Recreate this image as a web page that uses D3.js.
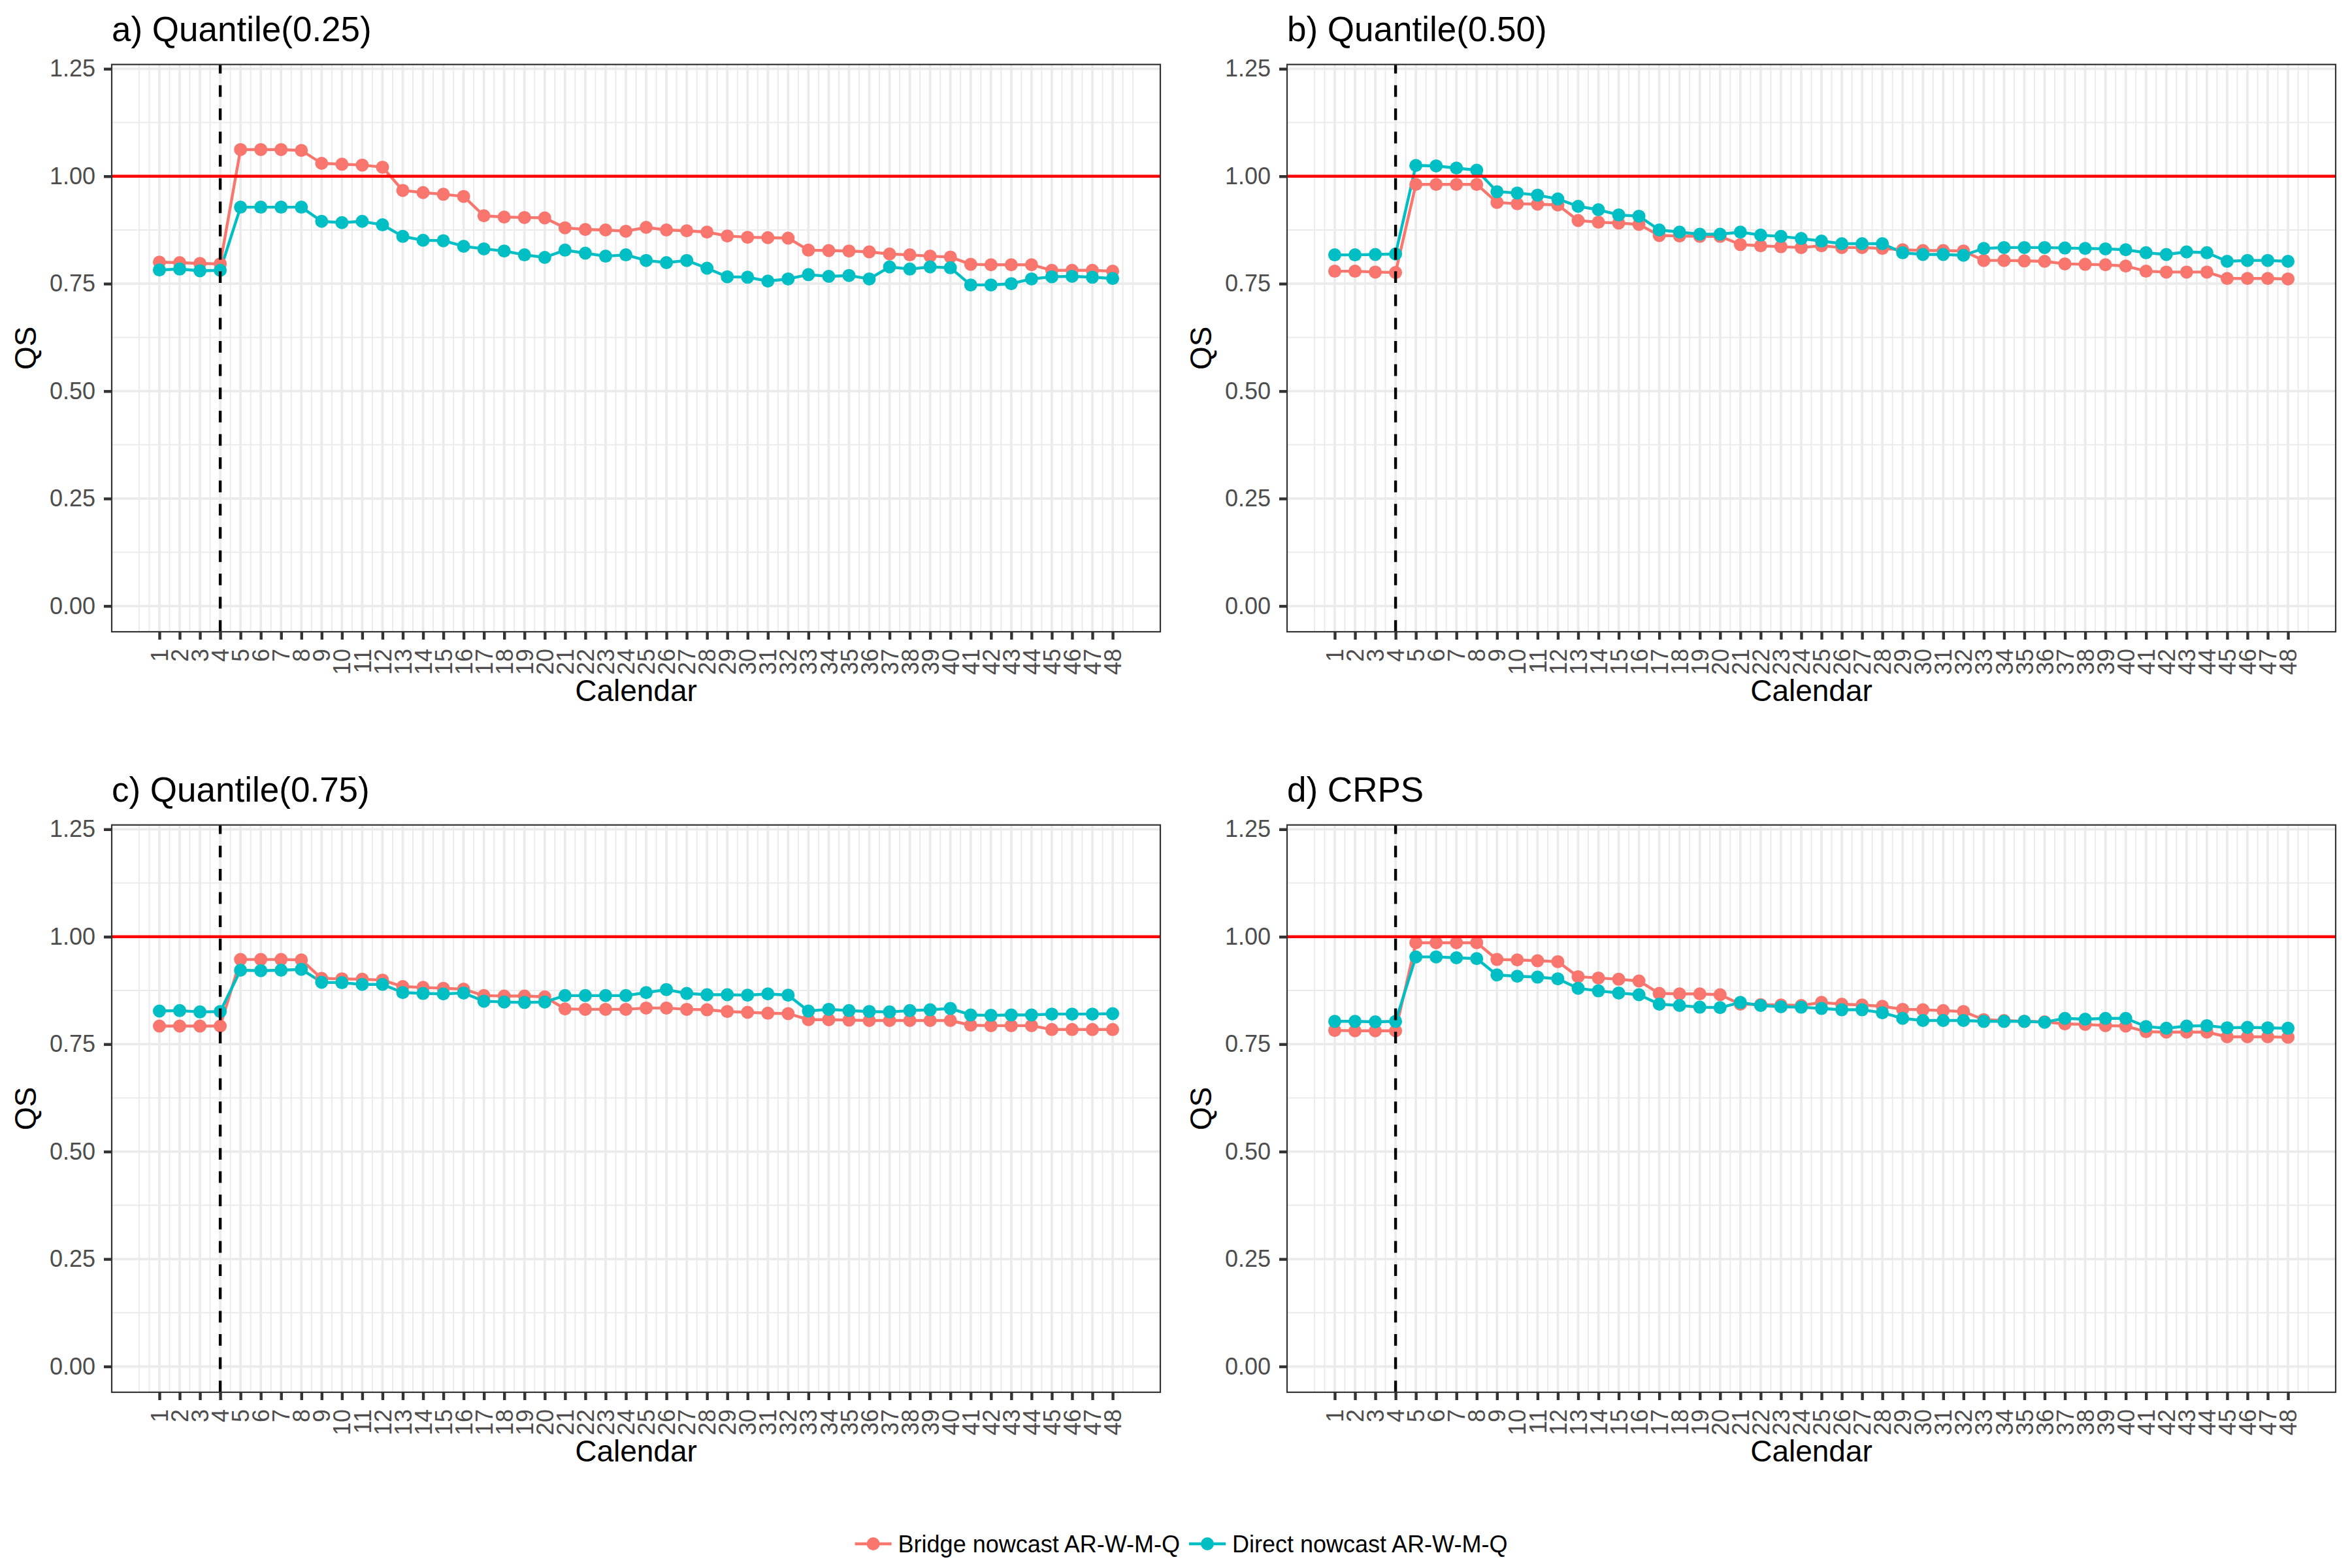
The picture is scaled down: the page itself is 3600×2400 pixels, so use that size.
<!DOCTYPE html>
<html>
<head>
<meta charset="utf-8">
<script src="https://cdn.jsdelivr.net/npm/d3@7"></script>
<style>
  body { margin: 0; background: #fff; }
  svg { display: block; font-family: "Liberation Sans", Arial, Helvetica, sans-serif; }
</style>
</head>
<body>
<div id="vis"></div>
<script>
// x categories (calendar step) and y ticks
const calendar = [1,2,3,4,5,6,7,8,9,10,11,12,13,14,15,16,17,18,19,20,21,22,23,24,
  25,26,27,28,29,30,31,32,33,34,35,36,37,38,39,40,41,42,43,44,45,46,47,48];
const yTicks = [0, 0.25, 0.5, 0.75, 1, 1.25];
const yTickLabels = ["0.00", "0.25", "0.50", "0.75", "1.00", "1.25"];
const panelTitles = ["a) Quantile(0.25)", "b) Quantile(0.50)", "c) Quantile(0.75)", "d) CRPS"];
const seriesNames = ["Bridge nowcast AR-W-M-Q", "Direct nowcast AR-W-M-Q"];
const refLine = 1;
const nowcastStart = 4;

// a) Quantile(0.25)
const bridgeQ25 = [0.800,0.799,0.797,0.796, 1.062,1.062,1.062,1.060, 1.030,1.028,1.026,1.021,
  0.967,0.962,0.958,0.953, 0.908,0.905,0.904,0.903, 0.880,0.876,0.875,0.872,
  0.881,0.875,0.873,0.870, 0.861,0.858,0.857,0.856, 0.828,0.827,0.826,0.824,
  0.819,0.817,0.814,0.812, 0.795,0.794,0.794,0.794, 0.781,0.781,0.781,0.779];
const directQ25 = [0.782,0.784,0.780,0.781, 0.928,0.928,0.928,0.928, 0.895,0.892,0.895,0.887,
  0.860,0.851,0.850,0.837, 0.831,0.826,0.817,0.811, 0.828,0.821,0.814,0.817,
  0.804,0.799,0.804,0.786, 0.766,0.765,0.756,0.761, 0.771,0.767,0.769,0.761,
  0.789,0.784,0.789,0.787, 0.747,0.747,0.750,0.761, 0.766,0.767,0.765,0.762];

// b) Quantile(0.50)
const bridgeQ50 = [0.779,0.779,0.777,0.776, 0.981,0.981,0.981,0.981, 0.939,0.936,0.935,0.933,
  0.897,0.893,0.891,0.888, 0.862,0.861,0.860,0.860, 0.841,0.838,0.836,0.834,
  0.838,0.834,0.834,0.832, 0.829,0.827,0.827,0.826, 0.804,0.804,0.803,0.802,
  0.796,0.795,0.794,0.791, 0.779,0.777,0.777,0.777, 0.762,0.762,0.762,0.761];
const directQ50 = [0.817,0.817,0.818,0.819, 1.025,1.024,1.019,1.014, 0.964,0.961,0.956,0.947,
  0.930,0.922,0.910,0.907, 0.875,0.870,0.865,0.865, 0.870,0.863,0.860,0.855,
  0.849,0.843,0.843,0.843, 0.822,0.818,0.818,0.816, 0.832,0.834,0.834,0.834,
  0.833,0.832,0.831,0.829, 0.822,0.818,0.824,0.822, 0.802,0.804,0.804,0.802];

// c) Quantile(0.75)
const bridgeQ75 = [0.792,0.792,0.792,0.792, 0.947,0.947,0.947,0.946, 0.903,0.902,0.901,0.899,
  0.884,0.882,0.880,0.878, 0.863,0.862,0.862,0.860, 0.832,0.831,0.831,0.831,
  0.834,0.834,0.831,0.830, 0.826,0.824,0.822,0.821, 0.807,0.807,0.806,0.805,
  0.805,0.805,0.805,0.805, 0.794,0.793,0.793,0.793, 0.784,0.784,0.784,0.784];
const directQ75 = [0.827,0.828,0.825,0.826, 0.922,0.921,0.922,0.924, 0.894,0.893,0.889,0.889,
  0.870,0.868,0.867,0.869, 0.850,0.848,0.847,0.848, 0.863,0.863,0.863,0.863,
  0.870,0.877,0.868,0.865, 0.865,0.864,0.867,0.864, 0.827,0.831,0.828,0.826,
  0.825,0.828,0.830,0.833, 0.818,0.817,0.818,0.818, 0.820,0.820,0.820,0.821];

// d) CRPS
const bridgeCRPS = [0.782,0.781,0.781,0.781, 0.986,0.986,0.986,0.986, 0.947,0.946,0.944,0.942,
  0.907,0.904,0.901,0.897, 0.868,0.867,0.867,0.865, 0.843,0.842,0.841,0.840,
  0.847,0.843,0.841,0.838, 0.831,0.830,0.828,0.826, 0.807,0.805,0.803,0.802,
  0.797,0.796,0.793,0.792, 0.779,0.778,0.778,0.778, 0.767,0.767,0.767,0.766];
const directCRPS = [0.803,0.803,0.802,0.803, 0.953,0.953,0.951,0.949, 0.911,0.908,0.906,0.902,
  0.880,0.874,0.869,0.865, 0.843,0.840,0.836,0.835, 0.847,0.840,0.837,0.836,
  0.833,0.830,0.830,0.823, 0.810,0.805,0.805,0.805, 0.803,0.803,0.803,0.801,
  0.810,0.808,0.810,0.810, 0.791,0.787,0.792,0.793, 0.788,0.789,0.788,0.787];

const width = 3600, height = 2400;
const svg = d3.select("#vis").append("svg")
  .attr("width", width)
  .attr("height", height);
svg.append("rect").attr("width", width).attr("height", height).attr("fill", "#fff");

const seriesColors = ["#F8766D", "#00BFC4"];
const panelW = 1605, panelH = 868.3;
const colLeft = [171, 1970], rowTop = [98.7, 1262.7];
const gridCol = "#EBEBEB", inkCol = "#333333";
const pointR = 10;

const panels = [
  { title: panelTitles[0], series: [bridgeQ25, directQ25] },
  { title: panelTitles[1], series: [bridgeQ50, directQ50] },
  { title: panelTitles[2], series: [bridgeQ75, directQ75] },
  { title: panelTitles[3], series: [bridgeCRPS, directCRPS] }
];

panels.forEach((p, i) => {
  const left = colLeft[i % 2], top = rowTop[Math.floor(i / 2)];
  const bottom = top + panelH;
  const x = d3.scaleLinear().domain([-1.35, 50.35]).range([left, left + panelW]);
  const y = d3.scaleLinear().domain([-0.06, 1.26]).range([bottom, top]);

  const g = svg.append("g");
  const clipId = "clip" + i;
  g.append("clipPath").attr("id", clipId)
    .append("rect").attr("x", left).attr("y", top).attr("width", panelW).attr("height", panelH);
  const inner = g.append("g").attr("clip-path", `url(#${clipId})`);

  // grid lines (minor first, then major)
  const xMinor = d3.range(0, 49.01, 0.5);
  const yMinor = [0.125, 0.375, 0.625, 0.875, 1.125];
  inner.selectAll(".vminor").data(xMinor).join("line")
    .attr("x1", d => x(d)).attr("x2", d => x(d)).attr("y1", top).attr("y2", bottom)
    .attr("stroke", gridCol).attr("stroke-width", 2);
  inner.selectAll(".hminor").data(yMinor).join("line")
    .attr("x1", left).attr("x2", left + panelW).attr("y1", d => y(d)).attr("y2", d => y(d))
    .attr("stroke", gridCol).attr("stroke-width", 2);
  inner.selectAll(".vmajor").data(calendar).join("line")
    .attr("x1", d => x(d)).attr("x2", d => x(d)).attr("y1", top).attr("y2", bottom)
    .attr("stroke", gridCol).attr("stroke-width", 3.8);
  inner.selectAll(".hmajor").data(yTicks).join("line")
    .attr("x1", left).attr("x2", left + panelW).attr("y1", d => y(d)).attr("y2", d => y(d))
    .attr("stroke", gridCol).attr("stroke-width", 3.8);

  // lines then points
  const line = d3.line().x((d, j) => x(calendar[j])).y(d => y(d));
  p.series.forEach((s, k) => {
    inner.append("path").datum(s)
      .attr("d", line).attr("fill", "none")
      .attr("stroke", seriesColors[k]).attr("stroke-width", 4.4)
      .attr("stroke-linejoin", "round");
  });
  p.series.forEach((s, k) => {
    inner.selectAll(null).data(s).join("circle")
      .attr("cx", (d, j) => x(calendar[j])).attr("cy", d => y(d))
      .attr("r", pointR).attr("fill", seriesColors[k]);
  });

  // reference lines
  inner.append("line")
    .attr("x1", left).attr("x2", left + panelW).attr("y1", y(refLine)).attr("y2", y(refLine))
    .attr("stroke", "#FF0000").attr("stroke-width", 4.4);
  inner.append("line")
    .attr("x1", x(nowcastStart)).attr("x2", x(nowcastStart)).attr("y1", bottom).attr("y2", top)
    .attr("stroke", "#000").attr("stroke-width", 4.4).attr("stroke-dasharray", "17.8,17.8");

  // panel border
  g.append("rect").attr("x", left).attr("y", top).attr("width", panelW).attr("height", panelH)
    .attr("fill", "none").attr("stroke", inkCol).attr("stroke-width", 2.2);

  // axes
  const yAxis = g.append("g").attr("transform", `translate(${left},0)`)
    .call(d3.axisLeft(y).tickValues(yTicks).tickFormat((d, k) => yTickLabels[k])
      .tickSize(12).tickPadding(13));
  const xAxis = g.append("g").attr("transform", `translate(0,${bottom})`)
    .call(d3.axisBottom(x).tickValues(calendar).tickSize(12));
  [yAxis, xAxis].forEach(ax => {
    ax.select(".domain").remove();
    ax.selectAll(".tick line").attr("stroke", inkCol).attr("stroke-width", 4.4);
    ax.selectAll(".tick text").attr("fill", "#4D4D4D")
      .style("font-size", "36px").style("font-family", "Liberation Sans, Arial, sans-serif");
  });
  xAxis.selectAll(".tick text")
    .attr("transform", "rotate(-90)")
    .attr("x", -26).attr("y", 0).attr("dy", "0.35em")
    .attr("text-anchor", "end");

  // titles
  g.append("text").attr("x", left).attr("y", top - 36)
    .style("font-size", "53px").attr("fill", "#000").text(p.title);
  g.append("text").attr("x", left + panelW / 2).attr("y", bottom + 106)
    .attr("text-anchor", "middle").style("font-size", "46px").attr("fill", "#000")
    .text("Calendar");
  g.append("text")
    .attr("transform", `translate(${left - 116},${top + panelH / 2}) rotate(-90)`)
    .attr("text-anchor", "middle").style("font-size", "46px").attr("fill", "#000")
    .text("QS");
});

// legend at the bottom
const legend = svg.append("g");
const legendY = 2363, keyW = 56;
let items = seriesNames.map((name, k) => {
  const it = legend.append("g");
  it.append("line").attr("x1", 0).attr("x2", keyW).attr("y1", 0).attr("y2", 0)
    .attr("stroke", seriesColors[k]).attr("stroke-width", 4.4);
  it.append("circle").attr("cx", keyW / 2).attr("cy", 0).attr("r", pointR).attr("fill", seriesColors[k]);
  const t = it.append("text").attr("x", keyW + 10).attr("y", 0).attr("dy", "0.35em")
    .style("font-size", "36px").attr("fill", "#000").text(name);
  return { it, w: keyW + 10 + t.node().getComputedTextLength() };
});
const gap = 14;
const total = d3.sum(items, d => d.w) + gap * (items.length - 1);
let cx = 1808 - total / 2;
items.forEach(d => {
  d.it.attr("transform", `translate(${cx},${legendY})`);
  cx += d.w + gap;
});
</script>
</body>
</html>
